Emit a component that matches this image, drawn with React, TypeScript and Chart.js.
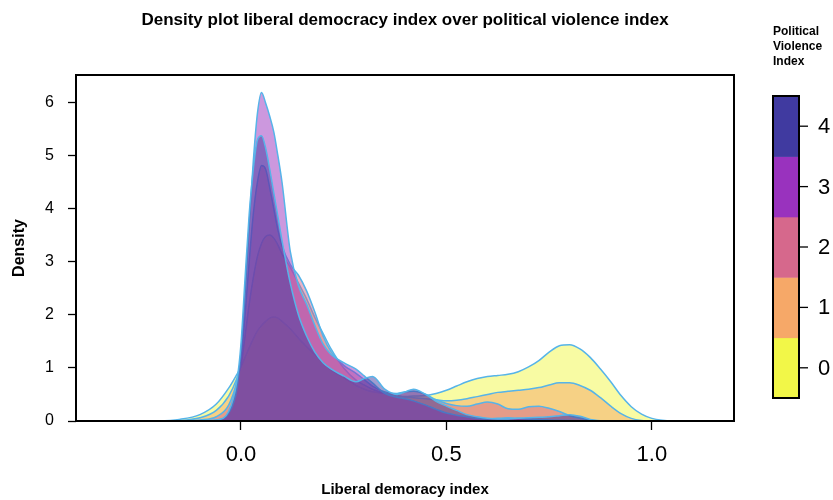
import React, { useEffect, useRef } from "react";
import { Chart, registerables } from "chart.js";

Chart.register(...registerables);

const FONT = "'Liberation Sans', Arial, Helvetica, sans-serif";

// Evaluation grid for the density curves (liberal democracy index)
const xGrid = [
  -0.35, -0.2, -0.15, -0.1, -0.06, -0.03, -0.01, 0, 0.01, 0.02, 0.03, 0.04, 0.05, 0.06, 0.07, 0.08,
  0.09, 0.1, 0.12, 0.14, 0.16, 0.18, 0.2, 0.22, 0.25, 0.28, 0.3, 0.32, 0.35, 0.38, 0.4, 0.42, 0.45,
  0.475, 0.5, 0.525, 0.55, 0.575, 0.6, 0.625, 0.65, 0.675, 0.7, 0.725, 0.75, 0.775, 0.8, 0.825,
  0.85, 0.875, 0.9, 0.925, 0.95, 0.975, 1.0, 1.025, 1.05, 1.15,
];

// Estimated density per political violence index level
const density0 = [
  0, 0.005, 0.03, 0.12, 0.32, 0.62, 0.88, 1.02, 1.2, 1.38, 1.55, 1.7, 1.8, 1.88, 1.94, 1.96,
  1.94, 1.88, 1.74, 1.56, 1.4, 1.25, 1.1, 0.96, 0.82, 0.67, 0.6, 0.55, 0.52, 0.48, 0.46, 0.47, 0.48,
  0.52, 0.58, 0.66, 0.74, 0.8, 0.84, 0.86, 0.88, 0.93, 1.02, 1.14, 1.3, 1.42, 1.44, 1.36,
  1.2, 0.98, 0.74, 0.48, 0.27, 0.13, 0.05, 0.015, 0.003, 0,
];
const density1 = [
  0, 0, 0.008, 0.06, 0.2, 0.47, 0.8, 1.05, 1.6, 2.2, 2.7, 3.1, 3.35, 3.48, 3.51, 3.45,
  3.32, 3.15, 2.9, 2.6, 2.3, 1.95, 1.65, 1.35, 1.0, 0.77, 0.68, 0.6, 0.52, 0.47, 0.45, 0.44, 0.42,
  0.4, 0.38, 0.39, 0.42, 0.46, 0.5, 0.54, 0.56, 0.58, 0.6, 0.63, 0.68, 0.72, 0.72, 0.67,
  0.58, 0.44, 0.28, 0.14, 0.05, 0.01, 0, 0, 0, 0,
];
const density2 = [
  0, 0, 0, 0.02, 0.08, 0.3, 0.75, 1.2, 2.0, 3.0, 3.9, 4.5, 4.82, 4.75, 4.4, 4.0,
  3.6, 3.3, 2.95, 2.75, 2.45, 2.05, 1.6, 1.3, 1.05, 0.9, 0.78, 0.66, 0.55, 0.52, 0.55, 0.56, 0.5,
  0.4, 0.33, 0.29, 0.28, 0.32, 0.36, 0.32, 0.23, 0.22, 0.27, 0.28, 0.24, 0.18, 0.1, 0.05,
  0.02, 0, 0, 0, 0, 0, 0, 0, 0, 0,
];
const density3 = [
  0, 0, 0, 0, 0.02, 0.15, 0.6, 1.3, 2.4, 3.7, 4.9, 5.8, 6.2, 6.0, 5.75, 5.45,
  5.0, 4.5, 3.2, 2.55, 2.2, 1.8, 1.45, 1.25, 1.1, 0.98, 0.85, 0.72, 0.52, 0.45, 0.42, 0.38, 0.3,
  0.22, 0.15, 0.11, 0.08, 0.05, 0.04, 0.05, 0.06, 0.05, 0.04, 0.03, 0.02, 0.015, 0.01, 0.005,
  0, 0, 0, 0, 0, 0, 0, 0, 0, 0,
];
const density4 = [
  0, 0, 0, 0, 0.02, 0.18, 0.75, 1.45, 2.7, 3.9, 4.75, 5.3, 5.38, 5.15, 4.75, 4.3,
  3.85, 3.4, 2.6, 2.0, 1.6, 1.3, 1.1, 0.98, 0.85, 0.74, 0.8, 0.84, 0.6, 0.5, 0.55, 0.6, 0.5,
  0.37, 0.28, 0.2, 0.12, 0.08, 0.05, 0.04, 0.04, 0.05, 0.06, 0.07, 0.08, 0.1, 0.12, 0.09,
  0.03, 0.005, 0, 0, 0, 0, 0, 0, 0, 0,
];

const violenceLevels = ["0", "1", "2", "3", "4"];
const levelSeries = [density0, density1, density2, density3, density4];
const levelColors = ["#F2F748", "#F6A868", "#D6688C", "#9932BE", "#403AA0"];
const outlineColor = "#56B4E9";

const xTicks = [0, 0.5, 1.0];
const yTicks = [0, 1, 2, 3, 4, 5, 6];

const chartTitle = "Density plot liberal democracy index over political violence index";
const legendTitle = ["Political", "Violence", "Index"];

function withAlpha(hex: string, a: number) {
  const n = parseInt(hex.slice(1), 16);
  return `rgba(${(n >> 16) & 255}, ${(n >> 8) & 255}, ${n & 255}, ${a})`;
}

// Frame, main title and the discrete colour bar
const decorations = {
  id: "decorations",
  afterDraw(chart: any) {
    const { ctx, chartArea: a } = chart;
    ctx.save();
    ctx.strokeStyle = "#000";
    ctx.lineWidth = 2;
    ctx.strokeRect(a.left, a.top, a.right - a.left, a.bottom - a.top);

    ctx.fillStyle = "#000";
    ctx.textAlign = "center";
    ctx.textBaseline = "middle";
    ctx.font = `bold 17px ${FONT}`;
    ctx.fillText(chartTitle, (a.left + a.right) / 2, 20);

    // legend title
    ctx.textAlign = "left";
    ctx.font = `bold 12px ${FONT}`;
    legendTitle.forEach((line, i) => ctx.fillText(line, 773, 32 + i * 15));

    // colour bar
    const barL = 773, barR = 799, barT = 96, barB = 398;
    const seg = (barB - barT) / violenceLevels.length;
    violenceLevels.forEach((lvl, i) => {
      const top = barB - (i + 1) * seg;
      ctx.fillStyle = levelColors[i];
      ctx.fillRect(barL, top, barR - barL, seg + 0.5);
    });
    ctx.strokeStyle = "#000";
    ctx.lineWidth = 2;
    ctx.strokeRect(barL, barT, barR - barL, barB - barT);
    ctx.lineWidth = 1.3;
    ctx.fillStyle = "#000";
    ctx.font = `22px ${FONT}`;
    ctx.textBaseline = "middle";
    violenceLevels.forEach((lvl, i) => {
      const cy = barB - (i + 0.5) * seg;
      ctx.beginPath();
      ctx.moveTo(barR, cy);
      ctx.lineTo(barR + 9, cy);
      ctx.stroke();
      ctx.fillText(lvl, 818, cy + 1);
    });
    ctx.restore();
  },
};

export default function App() {
  const canvasRef = useRef<HTMLCanvasElement | null>(null);

  useEffect(() => {
    const canvas = canvasRef.current;
    if (!canvas) return;
    Chart.defaults.font.family = FONT;

    const datasets = levelSeries.map((series, i) => ({
      label: violenceLevels[i],
      data: xGrid.map((x, k) => ({ x, y: series[k] })),
      backgroundColor: withAlpha(levelColors[i], 0.5),
      borderColor: outlineColor,
      borderWidth: 1.5,
      fill: "origin",
      pointRadius: 0,
      cubicInterpolationMode: "monotone" as const,
      order: levelSeries.length - 1 - i,
    }));

    const chart = new Chart(canvas, {
      type: "line",
      data: { datasets },
      options: {
        animation: false,
        responsive: false,
        layout: { padding: { top: 75, right: 99, bottom: 0, left: 0 } },
        plugins: {
          legend: { display: false },
          tooltip: { enabled: false },
        },
        scales: {
          x: {
            type: "linear",
            min: -0.4015,
            max: 1.2,
            afterBuildTicks: (s: any) => {
              s.ticks = xTicks.map((v) => ({ value: v }));
            },
            afterFit: (s: any) => {
              s.height = 79;
            },
            ticks: {
              callback: (v: any) => Number(v).toFixed(1),
              font: { size: 22 },
              color: "#000",
              padding: 12,
              maxRotation: 0,
              autoSkip: false,
            },
            grid: { drawOnChartArea: false, tickLength: 9, tickColor: "#000", tickWidth: 1.3 },
            border: { display: false },
            title: {
              display: true,
              text: "Liberal demoracy index",
              font: { size: 15, weight: "bold" },
              color: "#000",
              padding: { top: 0, bottom: 1 },
            },
          },
          y: {
            type: "linear",
            min: 0,
            max: 6.528,
            afterBuildTicks: (s: any) => {
              s.ticks = yTicks.map((v) => ({ value: v }));
            },
            afterFit: (s: any) => {
              s.width = 76;
            },
            ticks: { font: { size: 16 }, color: "#000", padding: 14 },
            grid: { drawOnChartArea: false, tickLength: 8, tickColor: "#000", tickWidth: 1.3 },
            border: { display: false },
            title: {
              display: true,
              text: "Density",
              font: { size: 16, weight: "bold" },
              color: "#000",
              padding: { top: 10, bottom: 0 },
            },
          },
        },
      },
      plugins: [decorations],
    } as any);

    return () => chart.destroy();
  }, []);

  return (
    <div style={{ position: "absolute", left: 0, top: 0, width: 833, height: 500, background: "#fff" }}>
      <canvas ref={canvasRef} width={833} height={500} style={{ display: "block" }} />
    </div>
  );
}
